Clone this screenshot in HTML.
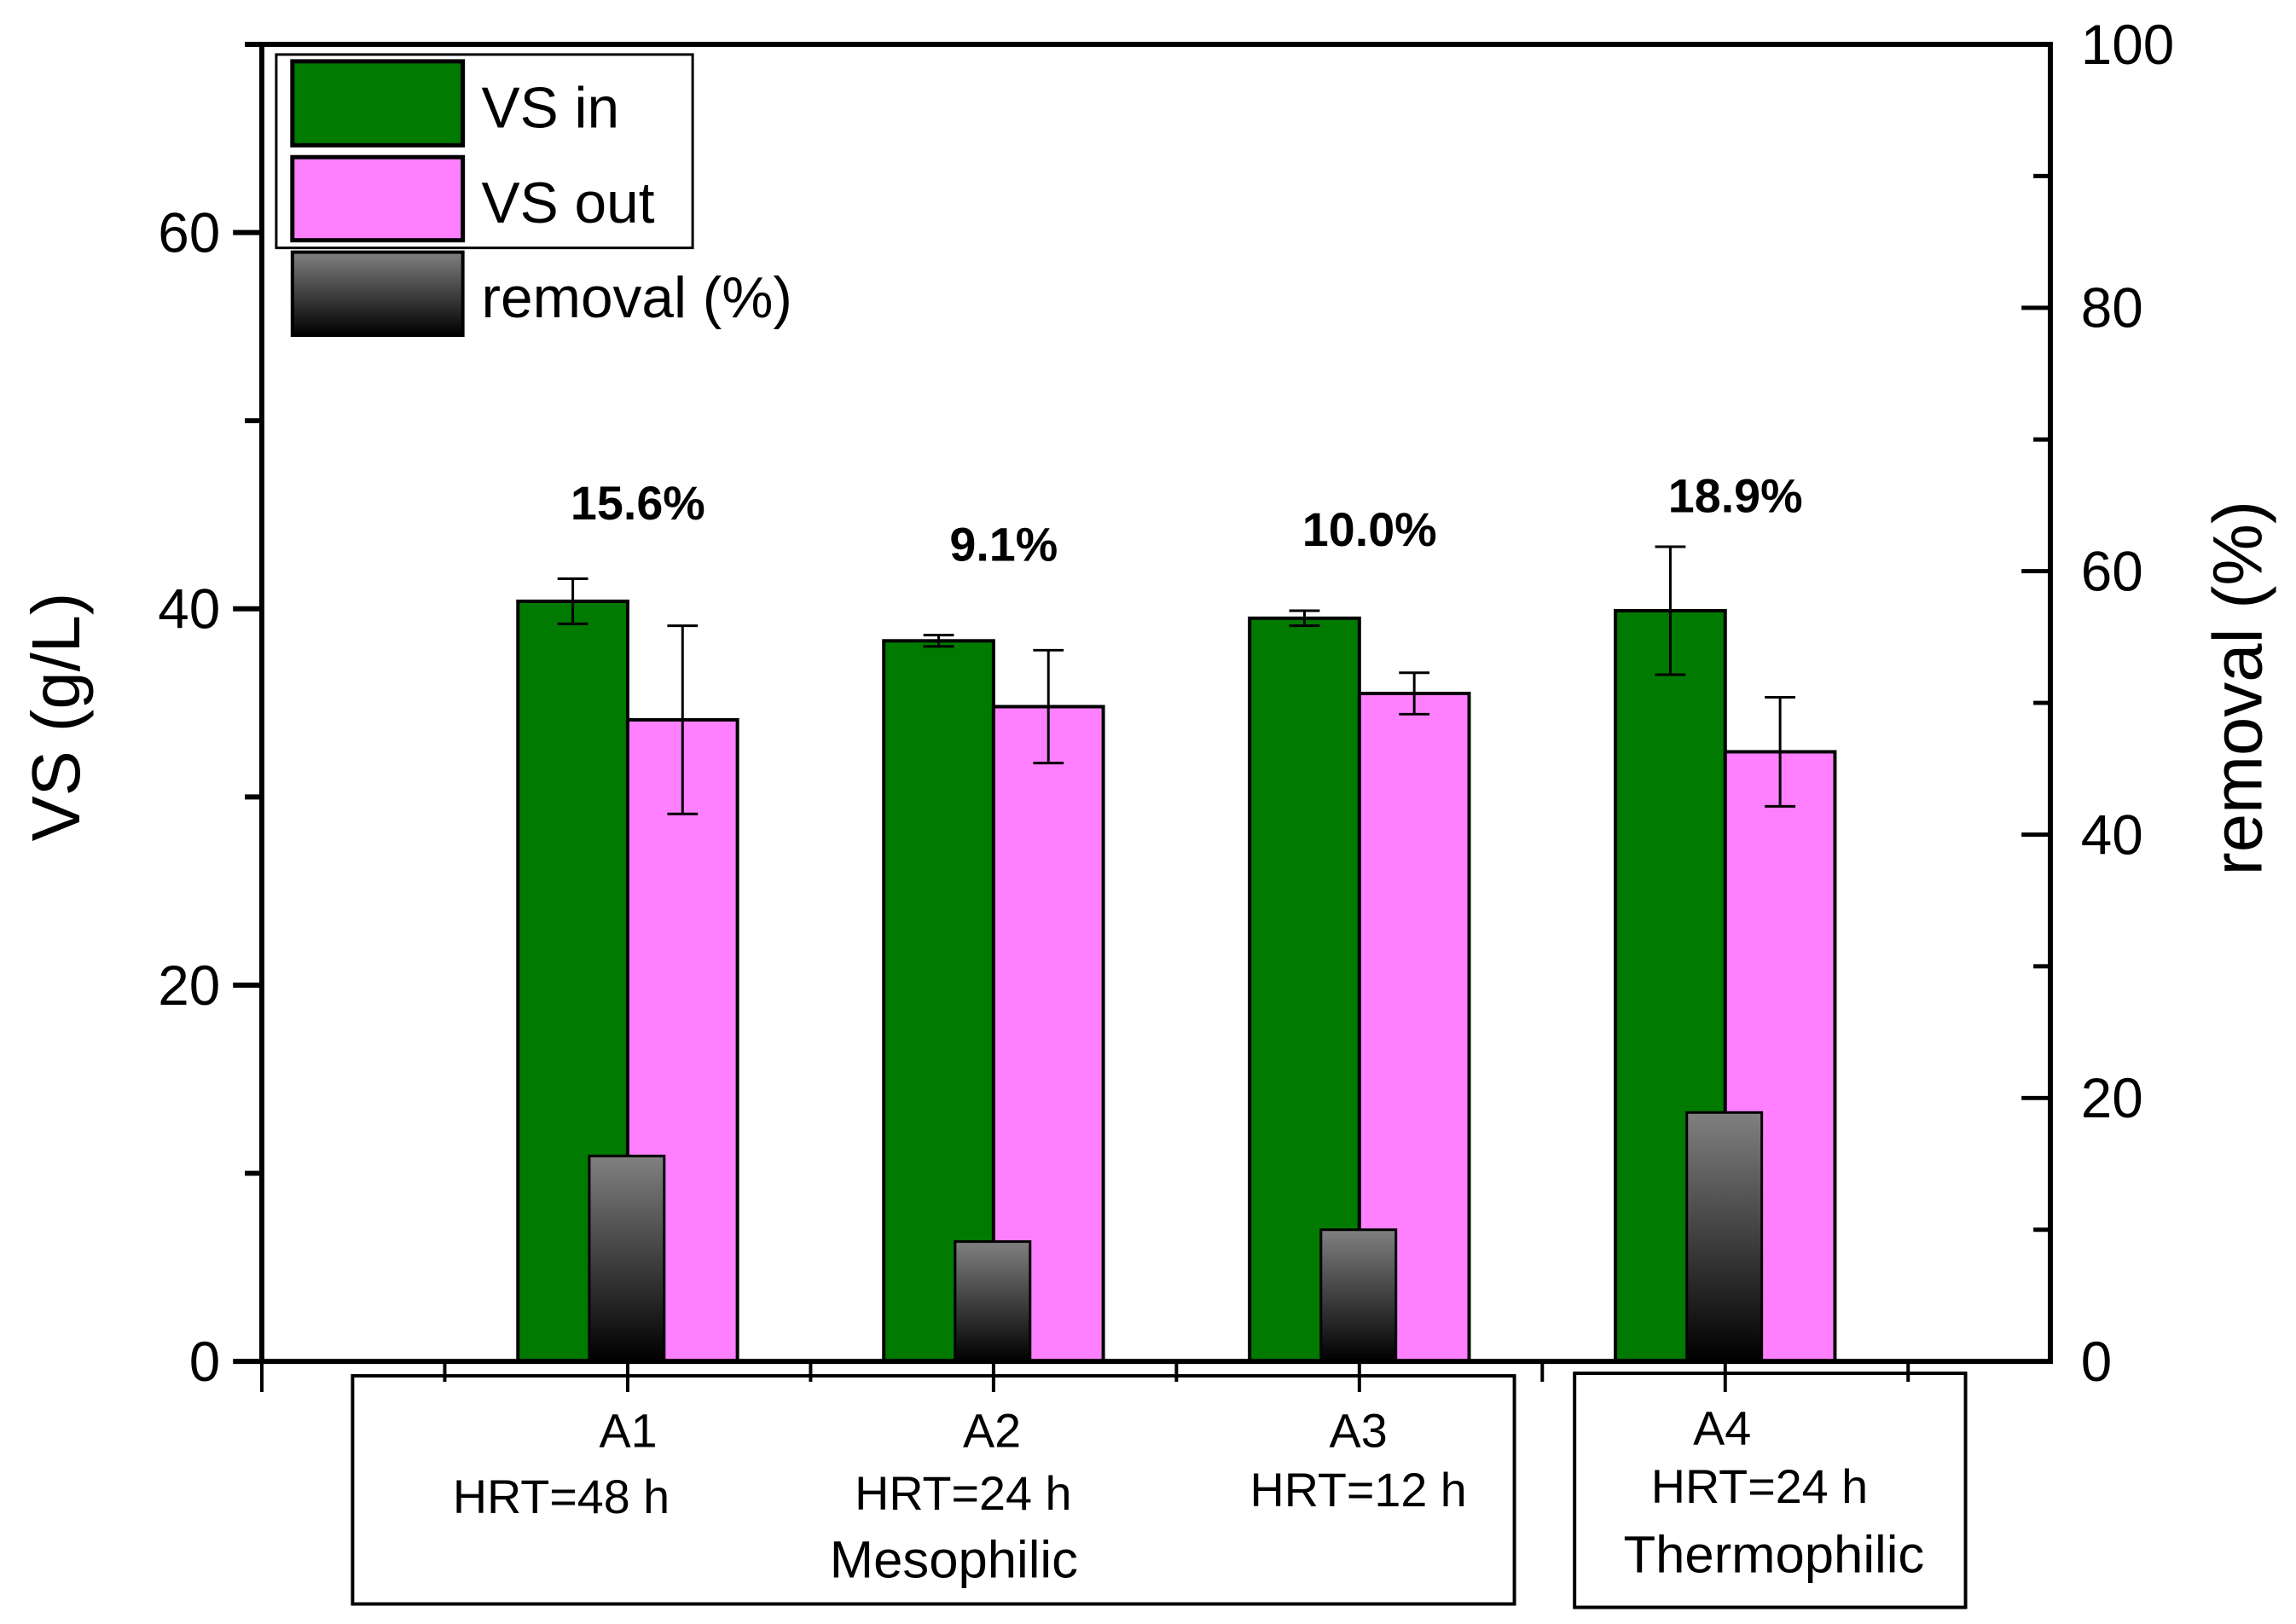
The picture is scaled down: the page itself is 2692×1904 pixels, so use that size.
<!DOCTYPE html>
<html><head><meta charset="utf-8"><style>
html,body{margin:0;padding:0;background:#fff;}
svg{display:block;font-family:"Liberation Sans",sans-serif;}
</style></head><body>
<svg id="chart" width="2692" height="1904" viewBox="0 0 2692 1904" xmlns="http://www.w3.org/2000/svg">
<defs>
<linearGradient id="gray" x1="0" y1="0" x2="0" y2="1">
<stop offset="0" stop-color="#808080"/><stop offset="1" stop-color="#000"/>
</linearGradient>
</defs>
<g transform="translate(307,52) scale(0.9943) translate(-307,-52)">
<g id="plot"></g>
<text transform="translate(92,845) rotate(-90)" text-anchor="middle" font-size="80">VS (g/L)</text>
<text transform="translate(2665,811) rotate(-90)" text-anchor="middle" font-size="82">removal (%)</text>
<g>
<rect x="324" y="64" width="491" height="228" fill="#fff" stroke="#000" stroke-width="3"/>
<rect x="343" y="72" width="201" height="99" fill="#007a00" stroke="#000" stroke-width="5"/>
<text x="566" y="150" font-size="68">VS in</text>
<rect x="343" y="185" width="201" height="98" fill="#ff80ff" stroke="#000" stroke-width="5"/>
<text x="566" y="262" font-size="68">VS out</text>
<rect x="343" y="297" width="201" height="98" fill="url(#gray)" stroke="#000" stroke-width="4"/>
<text x="566" y="374" font-size="68">removal (%)</text>
</g>
<g>
<rect x="414" y="1622" width="1370" height="269" fill="none" stroke="#000" stroke-width="4"/>
<text x="739" y="1706" text-anchor="middle" font-size="56">A1</text>
<text x="660" y="1784" text-anchor="middle" font-size="56">HRT=48 h</text>
<text x="1168" y="1706" text-anchor="middle" font-size="56">A2</text>
<text x="1134" y="1780" text-anchor="middle" font-size="56">HRT=24 h</text>
<text x="1600" y="1706" text-anchor="middle" font-size="56">A3</text>
<text x="1600" y="1776" text-anchor="middle" font-size="56">HRT=12 h</text>
<text x="1123" y="1860" text-anchor="middle" font-size="62">Mesophilic</text>
</g>
<g>
<rect x="1855" y="1619" width="461" height="276" fill="none" stroke="#000" stroke-width="4"/>
<text x="2029" y="1703" text-anchor="middle" font-size="56">A4</text>
<text x="2073" y="1772" text-anchor="middle" font-size="56">HRT=24 h</text>
<text x="2090" y="1854" text-anchor="middle" font-size="62">Thermophilic</text>
</g>
</g>
</svg>
<script>
const categories = ["A1","A2","A3","A4"];
const vsIn = [40.4, 38.3, 39.5, 39.9];
const vsInErr = [1.2, 0.3, 0.4, 3.4];
const vsOut = [34.1, 34.8, 35.5, 32.4];
const vsOutErr = [5.0, 3.0, 1.1, 2.9];
const removal = [15.6, 9.1, 10.0, 18.9];
const removalLabels = ["15.6%","9.1%","10.0%","18.9%"];
const labelLevel = [45.6, 43.4, 44.2, 46.0];
const yTicks = [0, 20, 40, 60];
const y2Ticks = [0, 20, 40, 60, 80, 100];

const NS = "http://www.w3.org/2000/svg";
const L = 307, R = 2416, T = 52, B = 1605;
const xs = v => L + v * 215.7;
const ys = v => B - v * (B - T) / 70;
const y2s = v => B - v * (B - T) / 100;
const g = document.getElementById('plot');
function mk(tag, attrs, parent) {
  const e = document.createElementNS(NS, tag);
  for (const k in attrs) e.setAttribute(k, attrs[k]);
  (parent || g).appendChild(e);
  return e;
}
categories.forEach((c, i) => {
  const cx = xs(2 + 2 * i);
  const w = 0.6 * 215.7;
  let r = mk('rect', {x: cx - w, y: ys(vsIn[i]), width: w, height: B - ys(vsIn[i]), fill: '#007a00', stroke: '#000', 'stroke-width': 4});
  
  
  r = mk('rect', {x: cx, y: ys(vsOut[i]), width: w, height: B - ys(vsOut[i]), fill: '#ff80ff', stroke: '#000', 'stroke-width': 4});
  
  
  const rw = 0.41 * 215.7;
  r = mk('rect', {x: cx - 0.21 * 215.7, y: y2s(removal[i]), width: rw, height: B - y2s(removal[i]), fill: 'url(#gray)', stroke: '#000', 'stroke-width': 3});
  
  
  [[cx - w / 2, vsIn[i], vsInErr[i], 'vs-in'], [cx + w / 2, vsOut[i], vsOutErr[i], 'vs-out']].forEach(([ex, v, e, n]) => {
    const eg = mk('g', {stroke: '#000', 'stroke-width': 3});
    
    
    mk('line', {x1: ex, x2: ex, y1: ys(v + e), y2: ys(v - e)}, eg);
    mk('line', {x1: ex - 18, x2: ex + 18, y1: ys(v + e), y2: ys(v + e)}, eg);
    mk('line', {x1: ex - 18, x2: ex + 18, y1: ys(v - e), y2: ys(v - e)}, eg);
  });
  const lab = mk('text', {x: cx + 12, y: ys(labelLevel[i]) + 19, 'text-anchor': 'middle', 'font-size': 56, 'font-weight': 'bold'});
  lab.textContent = removalLabels[i];
  
  
});
const fr = mk('rect', {x: L, y: T, width: R - L, height: B - T, fill: 'none', stroke: '#000', 'stroke-width': 6});


for (let v = 0; v <= 70; v += 10) {
  const major = v % 20 === 0;
  mk('line', {x1: L - (major ? 34 : 20), x2: L, y1: ys(v), y2: ys(v), stroke: '#000', 'stroke-width': 6});
}
yTicks.forEach(v => {
  const t = mk('text', {x: 258, y: ys(v) + 23, 'text-anchor': 'end', 'font-size': 66});
  t.textContent = v;
  
  
});
for (let v = 0; v <= 100; v += 10) {
  const major = v % 20 === 0;
  mk('line', {x1: R - (major ? 34 : 20), x2: R, y1: y2s(v), y2: y2s(v), stroke: '#000', 'stroke-width': 5});
}
y2Ticks.forEach(v => {
  const t = mk('text', {x: 2452, y: y2s(v) + 23, 'font-size': 66});
  t.textContent = v;
  
  
});
for (let k = 0; k <= 9; k++) {
  const major = k % 2 === 0;
  mk('line', {x1: xs(k), x2: xs(k), y1: B, y2: B + (major ? 36 : 24), stroke: '#000', 'stroke-width': 4});
}
</script>
</body></html>
